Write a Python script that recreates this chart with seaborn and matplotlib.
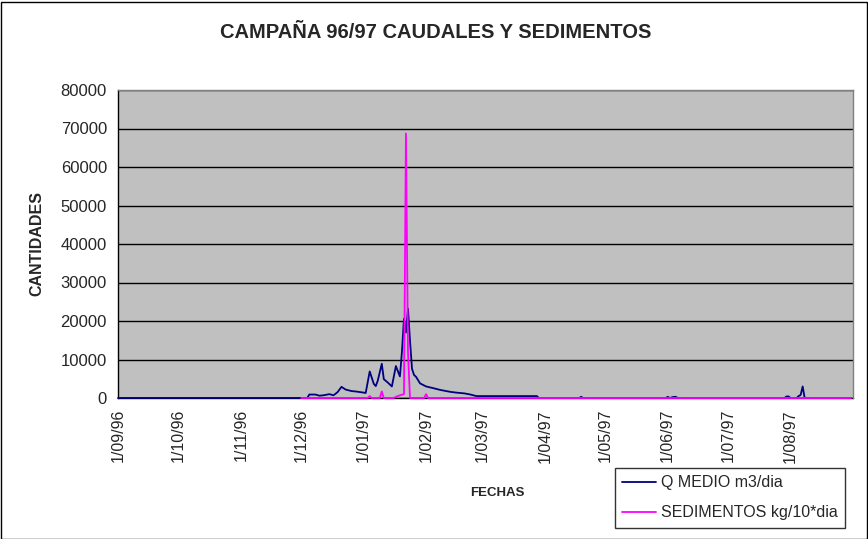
import matplotlib
matplotlib.use("Agg")
import matplotlib.pyplot as plt
import matplotlib.patches as mpatches
import pandas as pd
import seaborn as sns

# ---- data ----
q_dates = ["1996-09-01", "1996-12-04", "1996-12-05", "1996-12-08", "1996-12-10",
           "1996-12-12", "1996-12-15", "1996-12-17", "1996-12-19", "1996-12-21",
           "1996-12-23", "1996-12-26", "1996-12-28", "1997-01-01", "1997-01-02",
           "1997-01-04", "1997-01-06", "1997-01-07", "1997-01-08", "1997-01-10",
           "1997-01-11", "1997-01-13", "1997-01-15", "1997-01-17", "1997-01-19",
           "1997-01-20", "1997-01-21", "1997-01-22", "1997-01-23", "1997-01-24",
           "1997-01-25", "1997-01-26", "1997-01-27", "1997-01-29", "1997-02-01",
           "1997-02-05", "1997-02-08", "1997-02-13", "1997-02-16", "1997-02-20",
           "1997-02-23", "1997-02-26", "1997-03-28", "1997-03-29", "1997-04-18",
           "1997-04-19", "1997-04-20", "1997-05-31", "1997-06-01", "1997-06-02",
           "1997-06-04", "1997-06-05", "1997-06-06", "1997-07-29", "1997-07-30",
           "1997-07-31", "1997-08-01", "1997-08-04", "1997-08-05", "1997-08-06",
           "1997-08-07", "1997-08-08", "1997-08-31"]
q_values = [0, 0, 900, 900, 600,
            700, 1000, 700, 1500, 2900,
            2200, 1800, 1700, 1400, 1300,
            6900, 3700, 3100, 4500, 8900,
            4900, 4000, 3000, 8300, 5600,
            12000, 20600, 17000, 23200, 15000,
            7600, 6000, 5500, 3800, 3000,
            2500, 2100, 1600, 1400, 1200,
            900, 500, 500, 0, 0,
            300, 0, 0, 300, 0,
            300, 300, 0, 0, 400,
            400, 0, 0, 500, 800,
            3000, 0, 0]

sed_dates = ["1996-12-01", "1997-01-03", "1997-01-04", "1997-01-05", "1997-01-09",
             "1997-01-10", "1997-01-11", "1997-01-16", "1997-01-17", "1997-01-19",
             "1997-01-21", "1997-01-22", "1997-01-23", "1997-01-24", "1997-01-31",
             "1997-02-01", "1997-02-02", "1997-08-31"]
sed_values = [0, 0, 500, 0, 0,
              1700, 0, 0, 300, 700,
              1000, 68700, 12000, 0, 0,
              1000, 0, 0]

tick_dates = ["1996-09-01", "1996-10-01", "1996-11-01", "1996-12-01", "1997-01-01",
              "1997-02-01", "1997-03-01", "1997-04-01", "1997-05-01", "1997-06-01",
              "1997-07-01", "1997-08-01", "1997-09-01"]
tick_labels = ["1/09/96", "1/10/96", "1/11/96", "1/12/96", "1/01/97", "1/02/97",
               "1/03/97", "1/04/97", "1/05/97", "1/06/97", "1/07/97", "1/08/97", ""]
y_ticks = [0, 10000, 20000, 30000, 40000, 50000, 60000, 70000, 80000]

title = "CAMPAÑA 96/97 CAUDALES Y SEDIMENTOS"
q_label = "Q MEDIO m3/dia"
sed_label = "SEDIMENTOS kg/10*dia"

# ---- plot ----
sns.set_style("white")
plt.rcParams["font.family"] = ["Liberation Sans", "DejaVu Sans"]

W, H = 868, 539
fig = plt.figure(figsize=(W / 100, H / 100), dpi=100)
left, right, top, bottom = 118, 853, 90, 398
ax = fig.add_axes([left / W, 1 - bottom / H, (right - left) / W, (bottom - top) / H])
ax.set_facecolor("#C0C0C0")

qdf = pd.DataFrame({"fecha": pd.to_datetime(q_dates), "valor": q_values})
sdf = pd.DataFrame({"fecha": pd.to_datetime(sed_dates), "valor": sed_values})

sns.lineplot(data=qdf, x="fecha", y="valor", ax=ax, color="#000080", lw=1.3,
             label=q_label, legend=False, zorder=3, clip_on=False)
sns.lineplot(data=sdf, x="fecha", y="valor", ax=ax, color="#FF00FF", lw=1.3,
             label=sed_label, legend=False, zorder=4, clip_on=False)

ax.set_xlim(pd.Timestamp(tick_dates[0]), pd.Timestamp(tick_dates[-1]))
ax.set_ylim(0, 80000)
ax.set_yticks(y_ticks)
ax.set_yticklabels([str(v) for v in y_ticks], fontsize=12)
ax.set_xticks(pd.to_datetime(tick_dates))
ax.set_xticklabels(tick_labels, rotation=90, fontsize=11.5)
ax.tick_params(axis="both", direction="out", length=5, width=1, color="black",
               pad=3)
ax.yaxis.grid(True, color="black", lw=1)
ax.set_axisbelow(True)
for s in ["top", "right"]:
    ax.spines[s].set_color("#808080")
    ax.spines[s].set_linewidth(1)
for s in ["left", "bottom"]:
    ax.spines[s].set_color("black")
    ax.spines[s].set_linewidth(1)
    ax.spines[s].set_zorder(2)

ax.set_xlabel("")
ax.set_ylabel("")
fig.text(497 / W, 1 - 493 / H, "FECHAS", fontsize=9.5, fontweight="bold",
         ha="center", va="center")
fig.text(37 / W, 1 - 243 / H, "CANTIDADES", fontsize=11.5, fontweight="bold",
         rotation=90, ha="center", va="center")
fig.text(436 / W, 1 - 32 / H, title, fontsize=14.5, fontweight="bold",
         ha="center", va="center")

handles, labels = ax.get_legend_handles_labels()
leg = fig.legend(handles, labels, loc="upper left",
                 bbox_to_anchor=(615 / W, 1 - 468 / H), fontsize=11.5,
                 frameon=True, fancybox=False, handlelength=2.1,
                 handletextpad=0.35, borderpad=0.45, labelspacing=0.95,
                 borderaxespad=0)
leg.get_frame().set_edgecolor("black")
leg.get_frame().set_linewidth(1)

fig.patches.append(mpatches.Rectangle((0.5 / W, 0.5 / H), 1 - 2 / W, 1 - 2 / H,
                                      transform=fig.transFigure, fill=False,
                                      edgecolor="black", lw=1))

fig.savefig("out.png", dpi=100, facecolor="white")
